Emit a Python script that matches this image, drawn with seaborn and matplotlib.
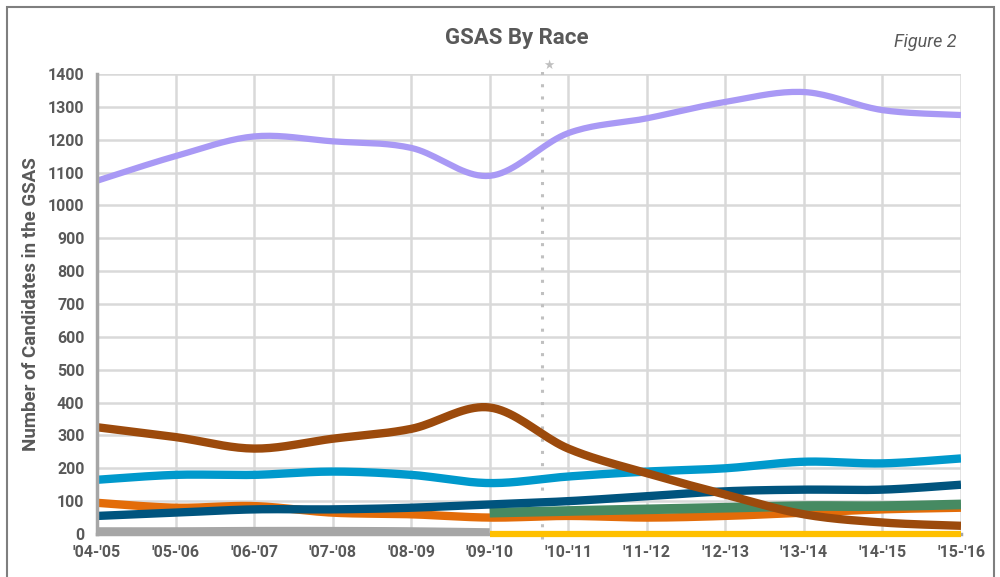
"""
GSAS By Race (Figure 2) - smoothed line chart of candidates by race, '04-'05 to '15-'16.
"""
import numpy as np
import pandas as pd
import matplotlib
matplotlib.use("Agg")
import matplotlib.pyplot as plt
from matplotlib.patches import Rectangle
import seaborn as sns

years = ["'04-'05", "'05-'06", "'06-'07", "'07-'08", "'08-'09", "'09-'10",
         "'10-'11", "'11-'12", "'12-'13", "'13-'14", "'14-'15", "'15-'16"]

purple = [1075, 1150, 1210, 1195, 1175, 1090, 1220, 1265, 1315, 1345, 1290, 1275]
brown = [325, 295, 260, 290, 320, 385, 260, 185, 120, 60, 35, 25]
light_blue = [165, 180, 180, 190, 180, 155, 175, 190, 200, 220, 215, 230]
navy = [55, 65, 75, 75, 80, 90, 100, 115, 130, 135, 135, 150]
orange = [95, 80, 85, 65, 60, 50, 55, 50, 55, 65, 75, 80]
green = [None, None, None, None, None, 65, 70, 75, 80, 85, 85, 90]
gray = [8, 8, 9, 9, 8, 5, None, None, None, None, None, None]
yellow = [None, None, None, None, None, 1, 1, 1, 1, 1, 1, 1]

# (values, colour, line width, zorder) in draw order
series = [
    (gray, "#A6A6A6", 6, 2),
    (yellow, "#FFC000", 4.5, 3),
    (orange, "#E36C09", 6, 2),
    (green, "#468A62", 7, 2),
    (navy, "#00547E", 6, 2),
    (light_blue, "#0099CC", 6, 2),
    (brown, "#9C4A0C", 6, 2),
    (purple, "#A999F5", 4.5, 2),
]

TXT = "#595959"
FONT = ["Roboto", "DejaVu Sans"]


def smooth(vals, steps=20):
    """Excel-style smoothing (Catmull-Rom through the given points)."""
    pts = [(i, v) for i, v in enumerate(vals) if v is not None]
    x = np.array([p[0] for p in pts], float)
    y = np.array([p[1] for p in pts], float)
    xs, ys = [], []
    n = len(x)
    for i in range(n - 1):
        x0, y0 = (x[i - 1], y[i - 1]) if i > 0 else (x[i], y[i])
        x3, y3 = (x[i + 2], y[i + 2]) if i + 2 < n else (x[i + 1], y[i + 1])
        x1, y1, x2, y2 = x[i], y[i], x[i + 1], y[i + 1]
        c1 = (x1 + (x2 - x0) / 6, y1 + (y2 - y0) / 6)
        c2 = (x2 - (x3 - x1) / 6, y2 - (y3 - y1) / 6)
        t = np.linspace(0, 1, steps, endpoint=(i == n - 2))
        b = [(1 - t) ** 3, 3 * (1 - t) ** 2 * t, 3 * (1 - t) * t ** 2, t ** 3]
        xs.append(b[0] * x1 + b[1] * c1[0] + b[2] * c2[0] + b[3] * x2)
        ys.append(b[0] * y1 + b[1] * c1[1] + b[2] * c2[1] + b[3] * y2)
    return pd.DataFrame({"x": np.concatenate(xs), "y": np.concatenate(ys)})


sns.set_style("white")
plt.rcParams["font.family"] = FONT
fig = plt.figure(figsize=(10, 5.77), dpi=100)
ax = fig.add_axes([0.097, 0.0745, 0.864, 0.7973])

for vals, col, lw, z in series:
    sns.lineplot(data=smooth(vals), x="x", y="y", color=col, linewidth=lw,
                 sort=False, estimator=None, ax=ax, solid_capstyle="butt",
                 zorder=z, clip_on=(z == 2))

ax.set_xlim(0, len(years) - 1)
ax.set_ylim(0, 1400)
ax.set_xticks(range(len(years)))
ax.set_xticklabels(years)
ax.set_yticks(range(0, 1401, 100))
ax.set_yticks(range(50, 1400, 100), minor=True)
ax.grid(True, which="major", color="#D9D9D9", linewidth=1.8)
ax.set_axisbelow(True)
for lab in ax.get_xticklabels() + ax.get_yticklabels():
    lab.set_fontweight("bold")
    lab.set_fontsize(11.5)
    lab.set_color(TXT)
ax.tick_params(axis="y", which="both", direction="out", length=6, width=2,
               color="#A6A6A6", pad=3)
ax.tick_params(axis="x", length=0, pad=8)
for side in ["top", "right"]:
    ax.spines[side].set_visible(False)
for side in ["left", "bottom"]:
    ax.spines[side].set_color("#A6A6A6")
    ax.spines[side].set_linewidth(2.5)

ax.set_xlabel("")
ax.set_ylabel("Number of Candidates in the GSAS", fontsize=13.5, color=TXT,
              fontweight="bold", labelpad=6)

# dotted marker line with star
ax.axvline(5.66, ymin=-0.01, ymax=1.01, color="#C0C0C0", linestyle=(0, (1, 3)),
           linewidth=2.2, clip_on=False, zorder=1)
ax.text(5.75, 1425, "\u2605", fontsize=9, color="#BFBFBF", ha="center", va="center",
        clip_on=False, family="DejaVu Sans")

fig.text(0.517, 0.934, "GSAS By Race", ha="center", va="center", fontsize=16,
         fontweight="bold", color=TXT)
fig.text(0.925, 0.927, "Figure 2", ha="center", va="center", fontsize=13,
         style="italic", color=TXT)

fig.add_artist(Rectangle((0.007, -0.02), 0.987, 1.008, transform=fig.transFigure,
                         fill=False, edgecolor="#7F7F7F", linewidth=1.5))

fig.savefig("out.png", dpi=100)
